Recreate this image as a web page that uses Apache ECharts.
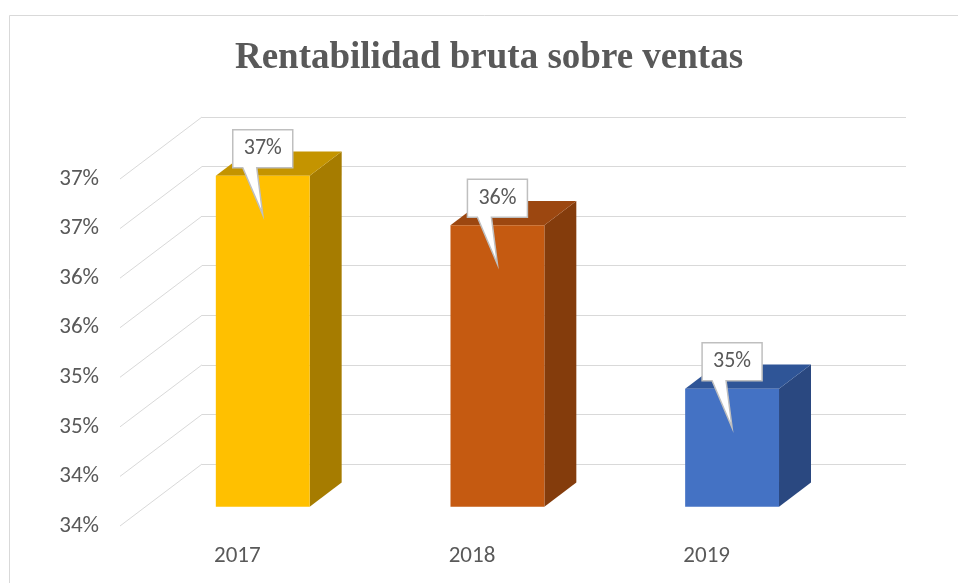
<!DOCTYPE html>
<html>
<head>
<meta charset="utf-8">
<title>Rentabilidad bruta sobre ventas</title>
<script src="https://cdn.jsdelivr.net/npm/echarts@6/dist/echarts.min.js"></script>
<style>
    html, body { margin: 0; padding: 0; background: #fff; }
    #main { width: 958px; height: 583px; }
</style>
</head>
<body>
<div id="main"></div>
<script>
// datos del grafico
var years = ['2017', '2018', '2019'];
var rentabilidad = [36.84, 36.34, 34.69];
var yMin = 33.5;
var yMax = 37;
var yStep = 0.5;
var yTicks = [33.5, 34, 34.5, 35, 35.5, 36, 36.5, 37];

var frontColors = ['#FFC000', '#C55A11', '#4472C4'];
var topColors = ['#C49400', '#9C4710', '#2F5597'];
var sideColors = ['#A67C00', '#843C0C', '#2A4880'];

// profundidad del efecto 3D (de la pared frontal a la del fondo)
var DX = 82, DY = -62;
var FRONT_K = 0.69, BACK_K = 0.30;
var TEXT_FONT = 'Carlito, "Liberation Sans", Arial, sans-serif';

var myChart = echarts.init(document.getElementById('main'));

function pct(v) {
    return Math.round(v) + '%';
}

var option = {
    backgroundColor: '#fff',
    animation: false,
    title: {
        text: 'Rentabilidad bruta sobre ventas',
        left: 484,
        top: 35,
        textAlign: 'center',
        textStyle: {
            fontFamily: '"Liberation Serif", "Times New Roman", serif',
            fontWeight: 'bold',
            fontSize: 37,
            color: '#595959'
        }
    },
    graphic: [{
        type: 'rect',
        shape: { x: 9.5, y: 15.5, width: 1000, height: 1000 },
        style: { fill: 'none', stroke: '#d9d9d9', lineWidth: 1 },
        silent: true
    }],
    grid: [
        // pared del fondo
        { left: 202, right: 52, top: 117, bottom: 119 },
        // plano frontal (etiquetas)
        { left: 120, right: 134, top: 179, bottom: 57 }
    ],
    xAxis: [
        {
            type: 'category', gridIndex: 0, data: years,
            axisLine: { show: false }, axisTick: { show: false }, axisLabel: { show: false }
        },
        {
            type: 'category', gridIndex: 1, data: years,
            axisLine: { show: false }, axisTick: { show: false },
            axisLabel: { margin: 19, fontSize: 23, color: '#595959', fontFamily: TEXT_FONT }
        }
    ],
    yAxis: [
        {
            type: 'value', gridIndex: 0, min: yMin, max: yMax, interval: yStep,
            axisLine: { show: false }, axisTick: { show: false }, axisLabel: { show: false },
            splitLine: { lineStyle: { color: '#d9d9d9', width: 1 } }
        },
        {
            type: 'value', gridIndex: 1, min: yMin, max: yMax, interval: yStep,
            axisLine: { show: false }, axisTick: { show: false },
            splitLine: { show: false },
            axisLabel: {
                margin: 21, fontSize: 23, color: '#595959', fontFamily: TEXT_FONT,
                formatter: pct
            }
        }
    ],
    series: [
        // lineas diagonales de la pared lateral
        {
            type: 'custom',
            xAxisIndex: 0,
            yAxisIndex: 0,
            silent: true,
            data: yTicks.map(function (v) { return [0, v]; }),
            renderItem: function (params, api) {
                var x0 = params.coordSys.x;
                var y = api.coord([0, api.value(1)])[1];
                return {
                    type: 'line',
                    shape: { x1: x0 - DX, y1: y - DY, x2: x0, y2: y },
                    style: { stroke: '#d9d9d9', lineWidth: 1 }
                };
            }
        },
        // barras 3D con etiqueta
        {
            type: 'custom',
            xAxisIndex: 0,
            yAxisIndex: 0,
            silent: true,
            data: rentabilidad.map(function (v, i) { return [i, v]; }),
            renderItem: function (params, api) {
                var i = api.value(0);
                var top = api.coord([i, api.value(1)]);
                var base = api.coord([i, yMin]);
                var w = api.size([1, 0])[0] * 0.4;
                var fx = -DX * FRONT_K, fy = -DY * FRONT_K;
                var bx = -DX * BACK_K, by = -DY * BACK_K;
                var l = top[0] - w / 2, r = top[0] + w / 2;
                var t = top[1], b = base[1];

                // punto central de la cara frontal superior
                var cx = top[0] + fx, cy = t + fy;
                var callout = [
                    [cx - 30, cy - 46], [cx + 30, cy - 46], [cx + 30, cy - 8],
                    [cx - 6, cy - 8], [cx, cy + 39], [cx - 20, cy - 8], [cx - 30, cy - 8]
                ];

                return {
                    type: 'group',
                    children: [
                        {
                            type: 'polygon',
                            shape: { points: [[r + fx, t + fy], [r + bx, t + by], [r + bx, b + by], [r + fx, b + fy]] },
                            style: { fill: sideColors[i] }
                        },
                        {
                            type: 'polygon',
                            shape: { points: [[l + fx, t + fy], [r + fx, t + fy], [r + bx, t + by], [l + bx, t + by]] },
                            style: { fill: topColors[i] }
                        },
                        {
                            type: 'rect',
                            shape: { x: l + fx, y: t + fy, width: w, height: b - t },
                            style: { fill: frontColors[i] }
                        },
                        {
                            type: 'polygon',
                            shape: { points: callout },
                            style: { fill: '#ffffff', stroke: '#bfbfbf', lineWidth: 1.5 }
                        },
                        {
                            type: 'text',
                            x: cx,
                            y: cy - 27,
                            style: {
                                text: pct(api.value(1)),
                                fill: '#595959',
                                font: '22px ' + TEXT_FONT,
                                align: 'center',
                                verticalAlign: 'middle'
                            }
                        }
                    ]
                };
            }
        }
    ]
};

myChart.setOption(option);
</script>
</body>
</html>
